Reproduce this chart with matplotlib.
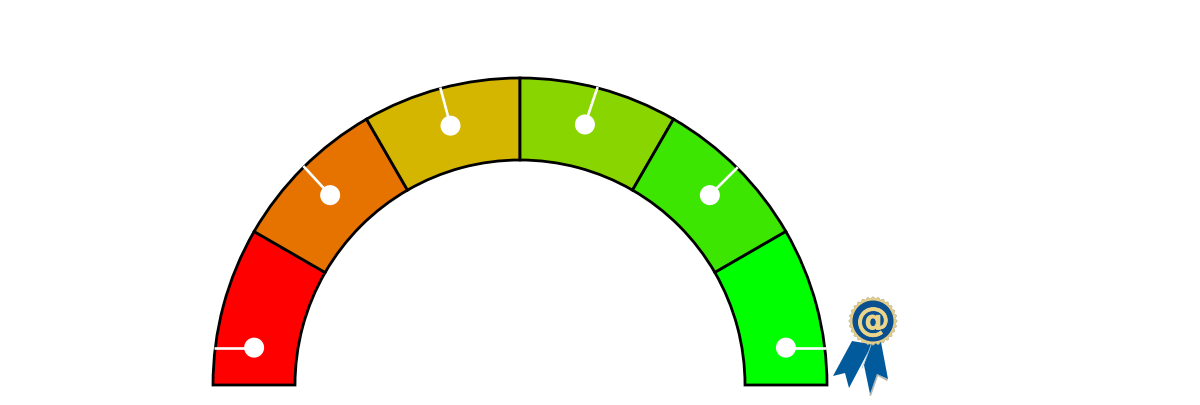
import numpy as np
import matplotlib
matplotlib.use("Agg")
import matplotlib.pyplot as plt
import matplotlib.patheffects as pe
from matplotlib.patches import Wedge, Circle, Polygon

# Gauge data
segment_spans = [30, 30, 30, 30, 30, 30]
segment_colors = ["#FF0000", "#E67300", "#D4B500", "#88D500", "#3CE600", "#00FF00"]
dot_angles = [172, 135, 105, 76, 45, 8]
needle_end_angles = [172, 134.7, 105, 75.4, 45, 8]
horizontal_needle = [True, False, False, False, False, True]

R_OUT, R_IN, R_DOT = 307, 225, 268.5

fig = plt.figure(figsize=(12, 4.05), dpi=100)
ax = fig.add_axes([0, 0, 1, 1])
ax.set_xlim(-520, 680)
ax.set_ylim(-20, 385)
ax.set_aspect("equal")
ax.axis("off")

start = 180
for span, col in zip(segment_spans, segment_colors):
    ax.add_patch(Wedge((0, 0), R_OUT, start - span, start, width=R_OUT - R_IN,
                       facecolor=col, edgecolor="black", linewidth=2.0,
                       joinstyle="miter", zorder=2))
    start -= span

for a, e, h in zip(dot_angles, needle_end_angles, horizontal_needle):
    x, y = R_DOT * np.cos(np.radians(a)), R_DOT * np.sin(np.radians(a))
    if h:
        ex, ey = np.sign(x) * (R_OUT + 1) * np.cos(np.arcsin(y / R_OUT)), y
    else:
        ex, ey = (R_OUT + 1) * np.cos(np.radians(e)), (R_OUT + 1) * np.sin(np.radians(e))
    ax.plot([x, ex], [y, ey], color="white", lw=1.9, solid_capstyle="butt", zorder=3)
    ax.add_patch(Circle((x, y), 10, facecolor="white", edgecolor="none", zorder=4))

# Ribbon badge (decoration); coordinates in the badge's own pixel box
def px(pts):
    return [(x - 520, 385 - y) for x, y in pts]

blue = "#005A9C"
left_tail = [(852, 341), (833, 376), (845, 373), (849, 388), (868, 352), (870, 344)]
right_tail = [(868, 345), (881, 342), (888, 379), (877, 374), (870, 394), (864, 365), (868, 352)]
ax.add_patch(Polygon(px([(869, 395), (871, 396), (878, 376), (887, 381), (888, 379), (877, 374), (870, 394)]),
                     facecolor="#B5B5A8", edgecolor="none", zorder=5))
ax.add_patch(Polygon(px(left_tail), facecolor=blue, edgecolor="none", zorder=6))
ax.add_patch(Polygon(px(right_tail), facecolor=blue, edgecolor="none", zorder=6))
ax.plot(*zip(*px([(871, 345), (867, 356), (862, 368)])), color="#A9C8DC", lw=0.6, zorder=7)

cx, cy = 873, 321
t = np.linspace(0, 2 * np.pi, 240, endpoint=False)
r = 23.2 + 1.0 * np.cos(28 * t)
ax.add_patch(Polygon(px(np.c_[cx + r * np.cos(t), cy + r * np.sin(t)]),
                     facecolor="#E6CE85", edgecolor="#B9AE8E", linewidth=0.4, zorder=8))
ax.add_patch(Circle(px([(cx, cy)])[0], 20.5, facecolor="#0A4F8F", edgecolor="none", zorder=9))
ax.text(cx - 520, 385 - cy - 0.5, "@", color="#EBD58A", fontsize=24, fontweight="bold",
        family="DejaVu Sans", ha="center", va="center", zorder=10,
        path_effects=[pe.withStroke(linewidth=0.6, foreground="#EBD58A")])

fig.savefig("out.png", dpi=100, facecolor="white")
